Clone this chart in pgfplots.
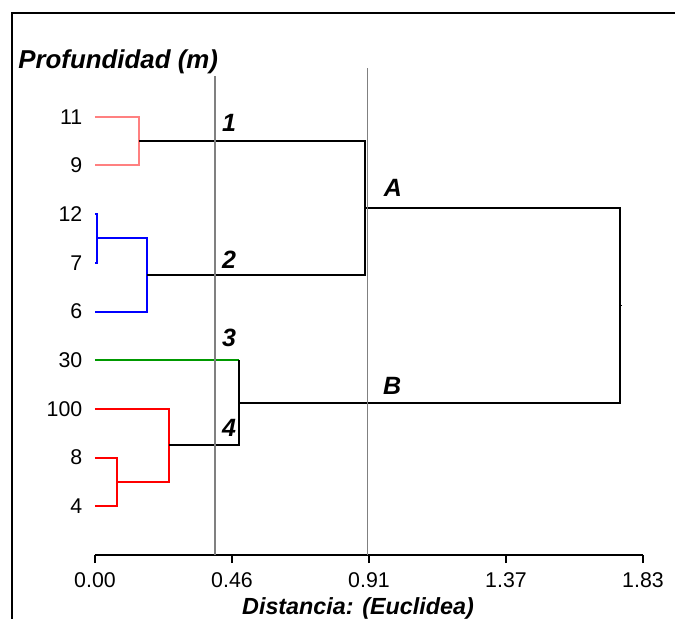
\documentclass[border=0pt]{standalone}
\usepackage{fontspec}
\setmainfont{Liberation Sans}
\usepackage{pgfplots}
\pgfplotsset{compat=1.18}
\definecolor{rosa}{RGB}{255,128,128}
\definecolor{azul}{RGB}{0,0,255}
\definecolor{verde}{RGB}{0,153,0}
\definecolor{rojo}{RGB}{255,0,0}
\definecolor{gris}{RGB}{128,128,128}

\begin{document}
\begin{tikzpicture}
\useasboundingbox (0,0) rectangle (506.25pt,-463.5pt);
\clip (0,0) rectangle (506.25pt,-463.5pt);
\draw[line width=2pt] (9pt,-9.75pt) rectangle (530pt,-480pt);
\begin{axis}[
    at={(71.25pt,-416.25pt)}, anchor=south west,
    scale only axis, width=411pt, height=365.25pt,
    xmin=0, xmax=1.83, ymin=0, ymax=10,
    axis x line=bottom, axis y line=left,
    x axis line style={-, line width=1.1pt},
    y axis line style={draw=none},
    xtick={0,0.4575,0.915,1.3725,1.83},
    xticklabels={0.00,0.46,0.91,1.37,1.83},
    ytick={1,2,3,4,5,6,7,8,9},
    yticklabels={4,8,100,30,6,7,12,9,11},
    tick align=outside,
    major tick length=6pt,
    xtick style={black, line width=1.1pt},
    ytick style={draw=none},
    ticklabel style={font=\fontsize{16}{19}\selectfont},
    xticklabel style={yshift=-3.5pt},
    /pgf/number format/assume math mode=true,
    clip=false,
]
% cluster 11-9
\addplot[rosa, line width=1.5pt] coordinates {(0,9) (0.147,9) (0.147,8) (0,8)};
% cluster 12-7-6
\addplot[azul, line width=1.5pt] coordinates {(0,7) (0.007,7) (0.007,6) (0,6)};
\addplot[azul, line width=1.5pt] coordinates {(0.007,6.5) (0.174,6.5) (0.174,5) (0,5)};
\addplot[black, line width=1.5pt] coordinates {(0.147,8.5) (0.901,8.5) (0.901,5.75) (0.174,5.75)};
% cluster 8-4-100
\addplot[rojo, line width=1.5pt] coordinates {(0,2) (0.073,2) (0.073,1) (0,1)};
\addplot[rojo, line width=1.5pt] coordinates {(0,3) (0.248,3) (0.248,1.5) (0.073,1.5)};
% 30
\addplot[verde, line width=1.5pt] coordinates {(0,4) (0.482,4)};
\addplot[black, line width=1.5pt] coordinates {(0.482,4) (0.482,2.25) (0.248,2.25)};
% union A-B
\addplot[black, line width=1.5pt] coordinates {(0.901,7.125) (1.753,7.125) (1.753,3.125) (0.482,3.125)};
\addplot[black, line width=1pt] coordinates {(1.753,5.125) (1.759,5.125)};
% cortes
\addplot[gris, line width=1.2pt] coordinates {(0.40,0) (0.40,9.84)};
\addplot[gris, line width=1.2pt] coordinates {(0.91,0) (0.91,10)};
% etiquetas
\begin{scope}[every node/.style={inner sep=0, font=\fontsize{18.75}{22}\selectfont\bfseries\itshape}]
\node at (axis cs:0.4475,8.87) {1};
\node[fill=white, inner ysep=1.5pt] at (axis cs:0.4475,6.06) {2};
\node at (axis cs:0.4475,4.46) {3};
\node at (axis cs:0.4475,2.61) {4};
\node at (axis cs:0.995,7.54) {A};
\node at (axis cs:0.992,3.47) {B};
\end{scope}
\end{axis}
\node[anchor=west, inner sep=0, font=\fontsize{19.4}{23}\selectfont\bfseries\itshape] at (13.5pt,-46.5pt) {Profundidad (m)};
\node[inner sep=0, font=\fontsize{17.5}{21}\selectfont\bfseries\itshape] at (268.5pt,-456pt) {Distancia: (Euclidea)};
\end{tikzpicture}
\end{document}
